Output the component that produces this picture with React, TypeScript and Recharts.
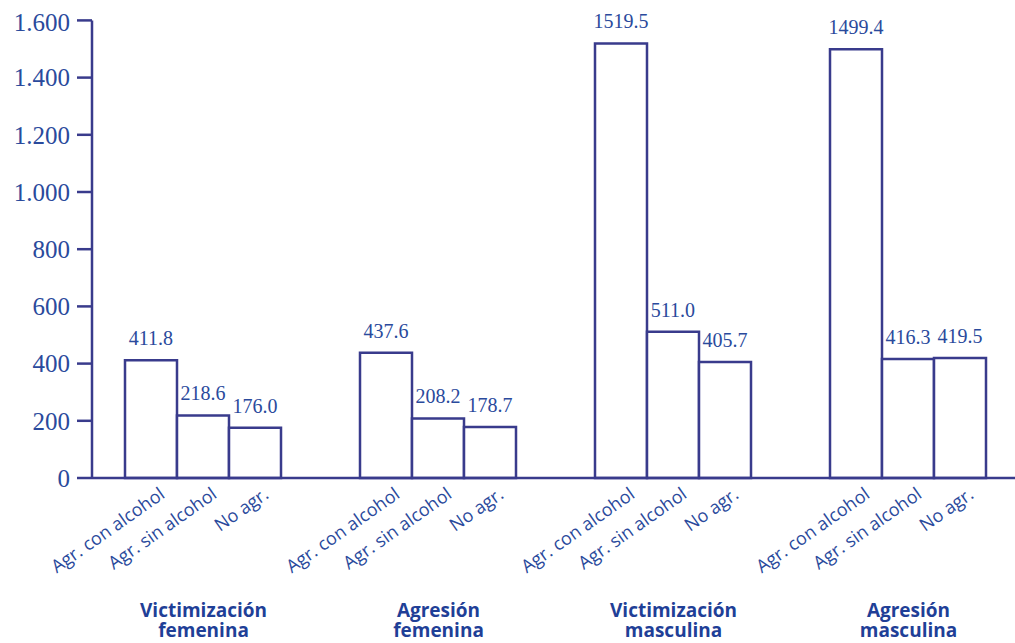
import React from "react";
import { BarChart, Bar, XAxis, YAxis, LabelList } from "recharts";

// Groups along the x axis and the three bars of each group
const groups = ["Victimización femenina", "Agresión femenina", "Victimización masculina", "Agresión masculina"];
const seriesNames = ["Agr. con alcohol", "Agr. sin alcohol", "No agr."];
const conAlcohol = [411.8, 437.6, 1519.5, 1499.4];
const sinAlcohol = [218.6, 208.2, 511.0, 416.3];
const noAgr = [176.0, 178.7, 405.7, 419.5];
const yTicks = [0, 200, 400, 600, 800, 1000, 1200, 1400, 1600];

const data = groups.map((g, i) => ({
    group: g,
    con: conAlcohol[i],
    sin: sinAlcohol[i],
    no: noAgr[i],
}));

const AXIS = "#393b8c";
const TEXT = "#2a4a9c";
const TITLE = "#1f3f97";

const fmtThousands = (v: number) =>
    v >= 1000 ? `${Math.floor(v / 1000)}.${String(v % 1000).padStart(3, "0")}` : String(v);

// rotated category name under each bar
const catLabel = (name: string) => (props: any) => {
    const { x, width, y, height } = props;
    const ax = x + width / 2 + 15;
    const ay = y + height + 19;
    return (
        <text
            x={ax}
            y={ay}
            textAnchor="end"
            fill={TEXT}
            fontSize={18}
            fontFamily="'Open Sans', sans-serif"
            transform={`rotate(-35, ${ax}, ${ay})`}
        >
            {name}
        </text>
    );
};

const GroupTick = (props: any) => {
    const { x, y, payload } = props;
    const words = String(payload.value).split(" ");
    return (
        <text
            x={x}
            y={y + 139}
            textAnchor="middle"
            fill={TITLE}
            fontSize={19}
            fontWeight="bold"
            fontFamily="'Open Sans', sans-serif"
        >
            {words.map((w, i) => (
                <tspan key={i} x={x} dy={i === 0 ? 0 : 20}>{w}</tspan>
            ))}
        </text>
    );
};

const keys = ["con", "sin", "no"];

export default function App() {
    return (
        <div style={{ position: "absolute", left: 8, top: 8, width: 1007, height: 635, overflow: "hidden" }}>
            <BarChart
                width={1018}
                height={635}
                data={data}
                margin={{ top: 12.4, right: 0, left: 0, bottom: 0 }}
                barCategoryGap={39}
                barGap={0}
            >
                <XAxis
                    dataKey="group"
                    height={165}
                    padding={{ left: -6, right: 0 }}
                    stroke={AXIS}
                    strokeWidth={2.5}
                    tickLine={false}
                    tickSize={0}
                    tickMargin={0}
                    tick={<GroupTick />}
                    interval={0}
                />
                <YAxis
                    width={84}
                    domain={[0, 1600]}
                    ticks={yTicks}
                    tickFormatter={fmtThousands}
                    stroke={AXIS}
                    strokeWidth={2.5}
                    tickSize={15}
                    tickMargin={7}
                    tick={{ fill: TEXT, fontSize: 25, fontFamily: "'Liberation Serif', serif" }}
                />
                {keys.map((k, i) => (
                    <Bar
                        key={k}
                        dataKey={k}
                        name={seriesNames[i]}
                        fill="#ffffff"
                        stroke={AXIS}
                        strokeWidth={2.5}
                        isAnimationActive={false}
                    >
                        <LabelList
                            dataKey={k}
                            position="top"
                            offset={15}
                            formatter={(v: any) => Number(v).toFixed(1)}
                            fill={TEXT}
                            fontSize={20}
                            fontFamily="'Liberation Serif', serif"
                        />
                        <LabelList dataKey={k} content={catLabel(seriesNames[i])} />
                    </Bar>
                ))}
            </BarChart>
        </div>
    );
}
